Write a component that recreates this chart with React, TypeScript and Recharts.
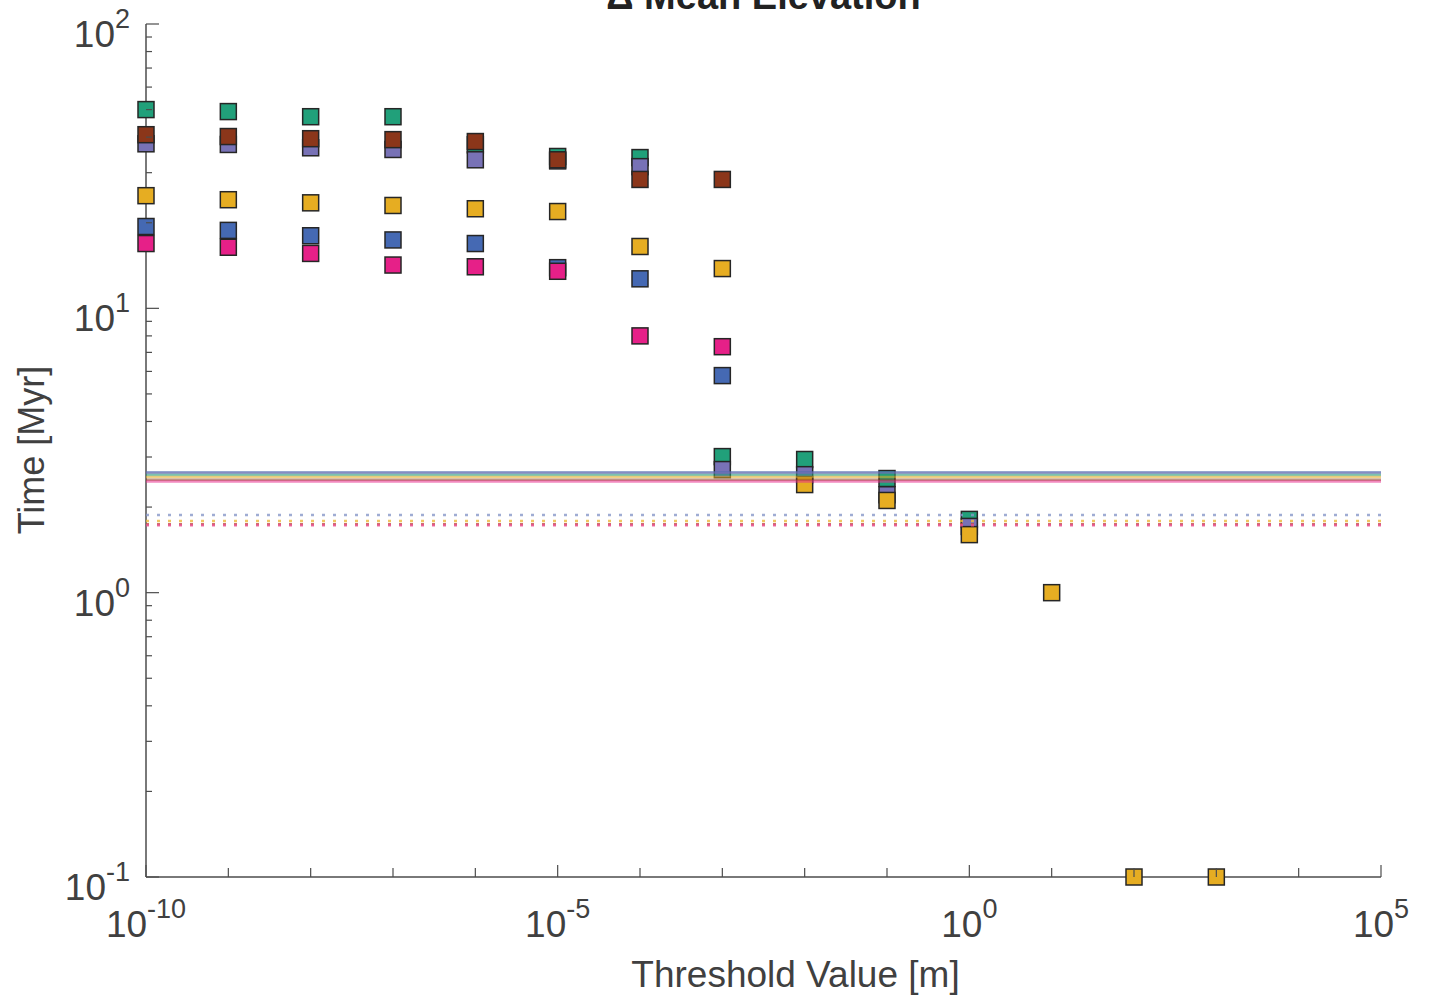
import React from 'react';
import { ScatterChart, Scatter, XAxis, YAxis, ReferenceLine } from 'recharts';

// threshold values (x) shared by every series
const thresholds = [1e-10, 1e-9, 1e-8, 1e-7, 1e-6, 1e-5, 1e-4, 1e-3, 1e-2, 1e-1, 1, 10, 100, 1000];

// time [Myr] per series, null where no marker
const greenTimes = [50.0, 49.2, 47.2, 47.2, 37.6, 34.2, 33.9, 3.01, 2.94, 2.52, 1.81, null, null, null];
const purpleTimes = [37.9, 37.7, 36.7, 36.2, 33.3, 33.0, 31.5, 2.71, 2.6, 2.21, 1.71, null, null, null];
const blueTimes = [19.4, 18.8, 18.0, 17.4, 16.9, 13.9, 12.7, 5.8, null, null, null, null, null, null];
const pinkTimes = [16.9, 16.4, 15.6, 14.2, 14.0, 13.5, 8.0, 7.33, null, null, null, null, null, null];
const brownTimes = [40.8, 40.2, 39.5, 39.2, 38.6, 33.3, 28.4, 28.4, null, null, null, null, null, null];
const yellowTimes = [24.9, 24.1, 23.5, 23.0, 22.4, 21.9, 16.5, 13.8, 2.4, 2.11, 1.6, 1.0, 0.1, 0.1];

// reference levels (solid and dotted)
const solidLevels = [
    { y: 2.65, color: '#4a6db5' },
    { y: 2.633, color: '#7570b3' },
    { y: 2.591, color: '#1f9e78' },
    { y: 2.549, color: '#e6ab22' },
    { y: 2.497, color: '#8b3a1a' },
    { y: 2.458, color: '#e7298a' },
];
const dottedLevels = [
    { y: 1.877, color: '#8797c8' },
    { y: 1.785, color: '#eeb93a' },
    { y: 1.742, color: '#c0504a' },
    { y: 1.727, color: '#e7508f' },
];

const xTicks = [1e-10, 1e-9, 1e-8, 1e-7, 1e-6, 1e-5, 1e-4, 1e-3, 1e-2, 1e-1, 1, 10, 100, 1000, 1e4, 1e5];
const xLabelExps = [-10, -5, 0, 5];
const yTicks = [
    0.1, 0.2, 0.3, 0.4, 0.5, 0.6, 0.7, 0.8, 0.9,
    1, 2, 3, 4, 5, 6, 7, 8, 9,
    10, 20, 30, 40, 50, 60, 70, 80, 90, 100,
];
const yLabelExps = [-1, 0, 1, 2];

const toPoints = (vals: (number | null)[]) =>
    thresholds.map((x, i) => ({ x, y: vals[i] })).filter(p => p.y !== null);

const FONT = '"Liberation Sans", Arial, Helvetica, sans-serif';
const TEXT = '#404040';
const AXIS = '#4d4d4d';

const Square = (props: any) => {
    const { cx, cy, fill } = props;
    if (cx == null || cy == null) return null;
    return <rect x={cx - 8} y={cy - 8} width={16} height={16} fill={fill} stroke="#262626" strokeWidth={1.5} />;
};

const XTick = (props: any) => {
    const { x, y, payload } = props;
    const exp = Math.round(Math.log10(payload.value));
    const labelled = xLabelExps.includes(exp);
    return (
        <g>
            <line x1={x} x2={x} y1={y} y2={y - (labelled ? 12 : 9)} stroke={AXIS} strokeWidth={1.2} />
            {labelled && (
                <text x={x} y={y + 60} textAnchor="middle" fill={TEXT} fontSize={37} fontFamily={FONT}>
                    10<tspan fontSize={27} dy={-19}>{exp}</tspan>
                </text>
            )}
        </g>
    );
};

const YTick = (props: any) => {
    const { x, y, payload } = props;
    const lg = Math.log10(payload.value);
    const exp = Math.round(lg);
    const major = Math.abs(lg - exp) < 1e-6 && yLabelExps.includes(exp);
    return (
        <g>
            <line x1={x} x2={x + (major ? 13 : 6)} y1={y} y2={y} stroke={AXIS} strokeWidth={1.2} />
            {major && (
                <text x={x - 16} y={y + 23} textAnchor="end" fill={TEXT} fontSize={37} fontFamily={FONT}>
                    10<tspan fontSize={27} dy={-19}>{exp}</tspan>
                </text>
            )}
        </g>
    );
};

export default function App() {
    return (
        <div style={{ position: 'absolute', left: 0, top: 0, width: 1439, height: 999, background: '#fff', overflow: 'hidden', fontFamily: FONT }}>
            <ScatterChart width={1439} height={999} margin={{ top: 24, right: 58, bottom: 62, left: 86 }}>
                <XAxis
                    type="number"
                    dataKey="x"
                    scale="log"
                    domain={[1e-10, 1e5]}
                    ticks={xTicks}
                    interval={0}
                    tick={<XTick />}
                    tickLine={false}
                    tickSize={0}
                    tickMargin={0}
                    height={60}
                    axisLine={{ stroke: AXIS, strokeWidth: 1.5 }}
                />
                <YAxis
                    type="number"
                    dataKey="y"
                    scale="log"
                    domain={[0.1, 100]}
                    ticks={yTicks}
                    interval={0}
                    tick={<YTick />}
                    tickLine={false}
                    tickSize={0}
                    tickMargin={0}
                    width={60}
                    axisLine={{ stroke: AXIS, strokeWidth: 1.5 }}
                />
                <Scatter data={toPoints(greenTimes)} fill="#21a07a" shape={<Square />} isAnimationActive={false} />
                <Scatter data={toPoints(purpleTimes)} fill="#7872b6" shape={<Square />} isAnimationActive={false} />
                <Scatter data={toPoints(blueTimes)} fill="#4569b3" shape={<Square />} isAnimationActive={false} />
                <Scatter data={toPoints(pinkTimes)} fill="#e62088" shape={<Square />} isAnimationActive={false} />
                <Scatter data={toPoints(brownTimes)} fill="#8b361a" shape={<Square />} isAnimationActive={false} />
                <Scatter data={toPoints(yellowTimes)} fill="#e6ad22" shape={<Square />} isAnimationActive={false} />
                {solidLevels.map((l, i) => (
                    <ReferenceLine key={'s' + i} y={l.y} stroke={l.color} strokeOpacity={0.55} strokeWidth={2.5} zIndex={900} />
                ))}
                {dottedLevels.map((l, i) => (
                    <ReferenceLine key={'d' + i} y={l.y} stroke={l.color} strokeOpacity={0.8} strokeWidth={2.5} strokeDasharray="3 8" zIndex={900} />
                ))}
            </ScatterChart>
            <div style={{ position: 'absolute', left: 146, width: 1235, top: -23, fontSize: 38, lineHeight: '38px', fontWeight: 'bold', textAlign: 'center', color: '#222' }}>
                Δ Mean Elevation
            </div>
            <div style={{ position: 'absolute', left: 178, width: 1235, top: 956, fontSize: 37, lineHeight: '37px', textAlign: 'center', color: TEXT }}>
                Threshold Value [m]
            </div>
            <div style={{ position: 'absolute', left: -168, width: 400, top: 432, fontSize: 36, lineHeight: '36px', textAlign: 'center', color: TEXT, transform: 'rotate(-90deg)' }}>
                Time [Myr]
            </div>
        </div>
    );
}
